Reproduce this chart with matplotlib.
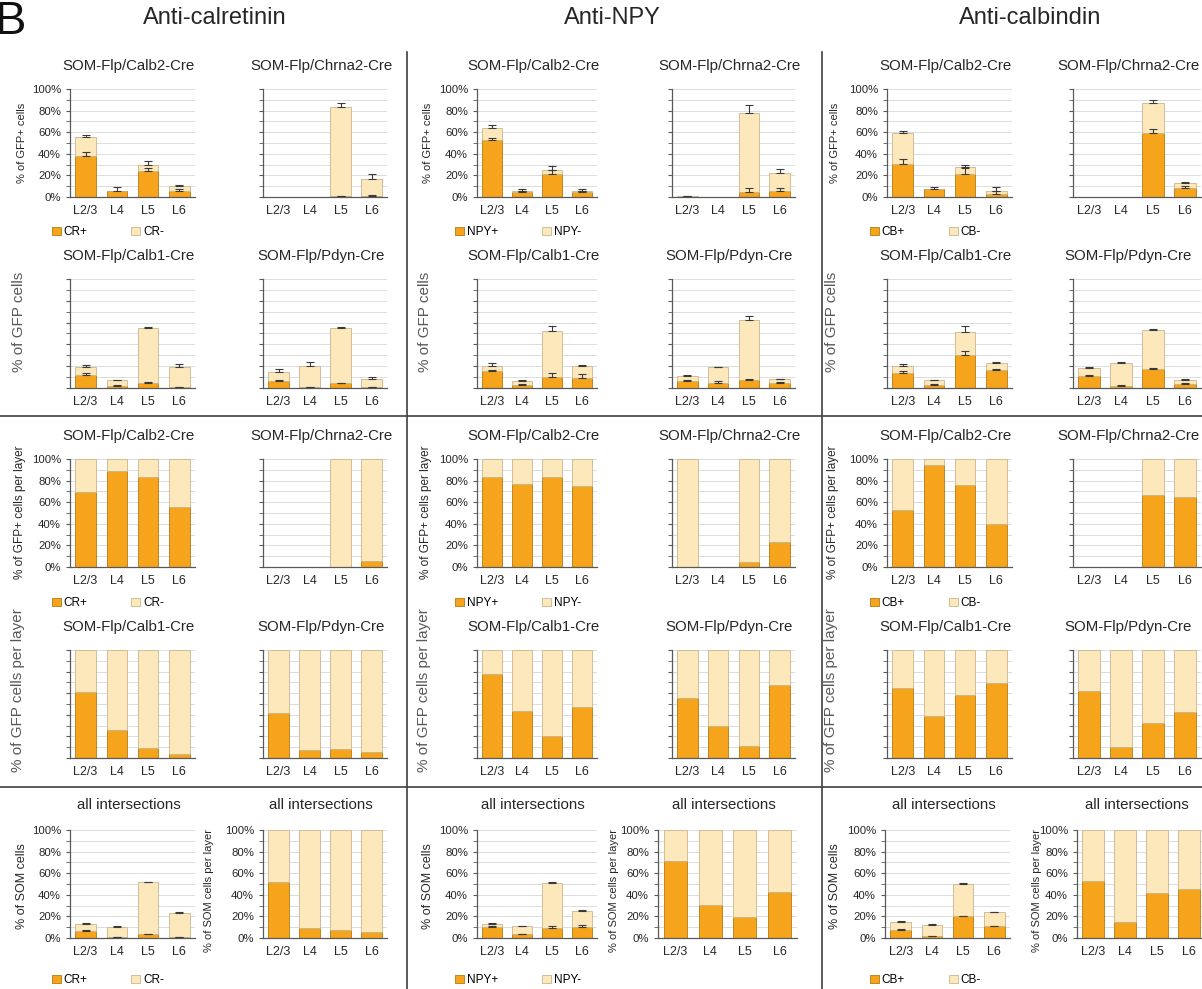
import matplotlib
matplotlib.use("Agg")
import matplotlib.pyplot as plt
from matplotlib.lines import Line2D
from matplotlib.patches import Patch
import numpy as np

plt.rcParams['font.family'] = ['Liberation Sans', 'DejaVu Sans']

layers = ["L2/3", "L4", "L5", "L6"]
antibodies = ["Anti-calretinin", "Anti-NPY", "Anti-calbindin"]
markers = ["CR", "NPY", "CB"]

# ---- Anti-calretinin ----
# % of GFP+ cells (stacked: positive / negative), upper error bars
cr_calb2_pos = [38, 5.5, 24, 6]
cr_calb2_neg = [17.5, 0.5, 6, 4.5]
cr_calb2_pos_err = [4, 3.5, 3, 1]
cr_calb2_tot_err = [2, 0, 3, 1]
cr_chrna2_pos = [0, 0, 0.5, 1]
cr_chrna2_neg = [0, 0, 82.5, 16]
cr_chrna2_pos_err = [0, 0, 0.3, 0.5]
cr_chrna2_tot_err = [0, 0, 4, 4]
cr_calb1_pos = [12, 2, 5, 0.5]
cr_calb1_neg = [7, 5, 50, 18.5]
cr_calb1_pos_err = [1.5, 0.3, 0.5, 0.3]
cr_calb1_tot_err = [2, 0.5, 1, 3]
cr_pdyn_pos = [6, 1, 4.5, 0.5]
cr_pdyn_neg = [9, 19, 50.5, 8]
cr_pdyn_pos_err = [1, 0.3, 0.5, 0.2]
cr_pdyn_tot_err = [2, 4, 1, 2]
# % per layer
cr_calb2_frac = [69, 89, 83.5, 56]
cr_chrna2_frac = [0, 0, 0, 6]
cr_chrna2_frac_neg = [0, 0, 100, 94]
cr_calb1_frac = [61, 26, 9, 4]
cr_pdyn_frac = [42, 7, 8, 6]
# all intersections
cr_all_pos = [6.2, 0.5, 3.4, 0.8]
cr_all_neg = [7, 9.7, 48, 22.7]
cr_all_pos_err = [1, 0.2, 0.3, 0.3]
cr_all_tot_err = [0.7, 0.5, 0.7, 0.6]
cr_all_frac = [52, 9, 7, 6]

# ---- Anti-NPY ----
npy_calb2_pos = [53, 5, 21, 5]
npy_calb2_neg = [11, 1, 4, 1]
npy_calb2_pos_err = [1.5, 1, 4, 1]
npy_calb2_tot_err = [2.5, 1, 3.5, 1]
npy_chrna2_pos = [0, 0, 5, 6]
npy_chrna2_neg = [0.7, 0, 73, 16]
npy_chrna2_pos_err = [0, 0, 3, 2]
npy_chrna2_tot_err = [0.5, 0, 7, 4]
npy_calb1_pos = [15.4, 3, 10, 9]
npy_calb1_neg = [4.6, 3.8, 42.6, 11]
npy_calb1_pos_err = [1, 0.5, 4, 4]
npy_calb1_tot_err = [2.5, 0.5, 4.5, 1.5]
npy_pdyn_pos = [6, 5, 7, 5]
npy_pdyn_neg = [5.4, 14, 55, 3]
npy_pdyn_pos_err = [1.5, 1, 1, 0.5]
npy_pdyn_tot_err = [0.5, 0.3, 4, 0.5]
npy_calb2_frac = [83.5, 76.5, 83.5, 75]
npy_chrna2_frac = [0, 0, 5, 23]
npy_chrna2_frac_neg = [100, 0, 95, 77]
npy_calb1_frac = [78, 43.5, 20, 47]
npy_pdyn_frac = [56, 30, 11, 68]
npy_all_pos = [10, 3.3, 9.4, 10.6]
npy_all_neg = [3, 7.7, 41.6, 14.4]
npy_all_pos_err = [1, 0.5, 1.5, 1.3]
npy_all_tot_err = [1, 0.5, 0.8, 0.5]
npy_all_frac = [71, 30.6, 19, 43]

# ---- Anti-calbindin ----
cb_calb2_pos = [31, 7, 21, 3]
cb_calb2_neg = [28, 0.5, 6.6, 3]
cb_calb2_pos_err = [4.3, 2.5, 5.5, 2.5]
cb_calb2_tot_err = [2, 0, 2, 2.8]
cb_chrna2_pos = [0, 0, 59, 8.6]
cb_chrna2_neg = [0, 0, 28, 4.4]
cb_chrna2_pos_err = [0, 0, 4, 1.5]
cb_chrna2_tot_err = [0, 0, 3, 1]
cb_calb1_pos = [14, 3, 30, 16.5]
cb_calb1_neg = [6, 4, 21, 6.5]
cb_calb1_pos_err = [1.5, 0.5, 4, 1]
cb_calb1_tot_err = [2, 0.5, 6, 1]
cb_pdyn_pos = [11, 2, 17.5, 4]
cb_pdyn_neg = [7, 21, 35.5, 3]
cb_pdyn_pos_err = [1, 0.3, 1, 0.5]
cb_pdyn_tot_err = [1, 0.5, 1, 1]
cb_calb2_frac = [53, 94, 75.5, 40]
cb_chrna2_frac = [0, 0, 67, 65]
cb_chrna2_frac_neg = [0, 0, 33, 35]
cb_calb1_frac = [65, 39, 58, 69]
cb_pdyn_frac = [62, 10, 32, 43]
cb_all_pos = [7.7, 1.5, 20, 10.8]
cb_all_neg = [7.3, 10.8, 30, 12.9]
cb_all_pos_err = [0.5, 0.3, 0.7, 0.7]
cb_all_tot_err = [0.7, 0.4, 0.6, 0.5]
cb_all_frac = [53, 14.5, 42, 45.5]

ORANGE = "#f7a41d"
LIGHT = "#fde8bb"
ORANGE_EDGE = "#b47a10"
LIGHT_EDGE = "#c8b68e"
AXC = "#595959"
TXT = "#262626"

W, H = 1202, 989
fig = plt.figure(figsize=(W / 100, H / 100), dpi=100)


def px_axes(x0, y0, x1, y1):
    return fig.add_axes([x0 / W, 1 - y1 / H, (x1 - x0) / W, (y1 - y0) / H])


def style(ax, show_y=True):
    ax.set_xlim(-0.5, 3.5)
    ax.set_ylim(0, 100)
    for s in ["top", "right"]:
        ax.spines[s].set_visible(False)
    for s in ["left", "bottom"]:
        ax.spines[s].set_color(AXC)
        ax.spines[s].set_linewidth(0.9)
    ax.set_yticks(np.arange(0, 101, 20))
    ax.set_yticks(np.arange(0, 101, 10), minor=True)
    ax.yaxis.grid(True, which="both", color="#dcdcdc", lw=0.7)
    ax.set_axisbelow(True)
    ax.set_yticklabels(["%d%%" % v for v in range(0, 101, 20)])
    ax.tick_params(axis="y", which="both", length=3, color=AXC, labelsize=8.2,
                   labelcolor=TXT, labelleft=show_y, pad=3.5)
    ax.set_xticks(range(4))
    ax.set_xticklabels(layers)
    ax.tick_params(axis="x", length=0, labelsize=9, labelcolor=TXT, pad=6)


def stacked(ax, pos, neg, pos_err=None, tot_err=None, show_y=True, width=0.66):
    x = np.arange(4)
    pos = np.array(pos, float)
    neg = np.array(neg, float)
    ax.bar(x, pos, width, color=ORANGE, edgecolor=ORANGE_EDGE, lw=0.6, zorder=2)
    ax.bar(x, neg, width, bottom=pos, color=LIGHT, edgecolor=LIGHT_EDGE, lw=0.6, zorder=2)
    if pos_err is not None:
        for top, err in [(pos, np.array(pos_err)), (pos + neg, np.array(tot_err))]:
            m = err > 0
            ax.errorbar(x[m], top[m], yerr=[np.zeros(m.sum()), err[m]], fmt="none",
                        ecolor="#3a3a3a", elinewidth=0.8, capsize=3, capthick=0.8, zorder=3)
    style(ax, show_y)


def title(txt, xc, yc):
    fig.text(xc / W, 1 - yc / H, txt, ha="center", va="center", fontsize=10.8, color=TXT)


def vlabel(txt, xc, yc, size=8.5, color=TXT):
    fig.text(xc / W, 1 - yc / H, txt, ha="center", va="center", rotation=90,
             fontsize=size, color=color)


def legend(mk, x, y):
    h = [Patch(facecolor=ORANGE, edgecolor=ORANGE_EDGE, lw=0.6),
         Patch(facecolor=LIGHT, edgecolor=LIGHT_EDGE, lw=0.6)]
    fig.legend(h, [mk + "+", mk + "-"], loc="center left",
               bbox_to_anchor=(x / W, 1 - y / H), ncol=2, frameon=False,
               fontsize=8.5, handlelength=0.75, handleheight=0.75,
               handletextpad=0.25, columnspacing=3.7, borderpad=0, borderaxespad=0)


# pixel layout
cols = [(70, 195, 263, 387), (477, 597, 672, 795), (887, 1012, 1073, 1201)]
rowE_prop = [(263, 387), (658, 797), (1077, 1205)]
rowE_abs = [(70, 195), (477, 597), (885, 1010)]
rows = {"A": (89, 197), "B": (279, 388), "C": (459, 567), "D": (650, 758), "E": (830, 938)}
header_x = [215, 612, 1030]
legend_x = [52, 455, 870]
ylab_x = [22, 428, 835]
propE_lab_x = [209, 614, 1037]

abs_data = [
    [(cr_calb2_pos, cr_calb2_neg, cr_calb2_pos_err, cr_calb2_tot_err),
     (cr_chrna2_pos, cr_chrna2_neg, cr_chrna2_pos_err, cr_chrna2_tot_err),
     (cr_calb1_pos, cr_calb1_neg, cr_calb1_pos_err, cr_calb1_tot_err),
     (cr_pdyn_pos, cr_pdyn_neg, cr_pdyn_pos_err, cr_pdyn_tot_err)],
    [(npy_calb2_pos, npy_calb2_neg, npy_calb2_pos_err, npy_calb2_tot_err),
     (npy_chrna2_pos, npy_chrna2_neg, npy_chrna2_pos_err, npy_chrna2_tot_err),
     (npy_calb1_pos, npy_calb1_neg, npy_calb1_pos_err, npy_calb1_tot_err),
     (npy_pdyn_pos, npy_pdyn_neg, npy_pdyn_pos_err, npy_pdyn_tot_err)],
    [(cb_calb2_pos, cb_calb2_neg, cb_calb2_pos_err, cb_calb2_tot_err),
     (cb_chrna2_pos, cb_chrna2_neg, cb_chrna2_pos_err, cb_chrna2_tot_err),
     (cb_calb1_pos, cb_calb1_neg, cb_calb1_pos_err, cb_calb1_tot_err),
     (cb_pdyn_pos, cb_pdyn_neg, cb_pdyn_pos_err, cb_pdyn_tot_err)],
]
frac_data = [
    [(cr_calb2_frac, None), (cr_chrna2_frac, cr_chrna2_frac_neg), (cr_calb1_frac, None), (cr_pdyn_frac, None)],
    [(npy_calb2_frac, None), (npy_chrna2_frac, npy_chrna2_frac_neg), (npy_calb1_frac, None), (npy_pdyn_frac, None)],
    [(cb_calb2_frac, None), (cb_chrna2_frac, cb_chrna2_frac_neg), (cb_calb1_frac, None), (cb_pdyn_frac, None)],
]
all_data = [
    (cr_all_pos, cr_all_neg, cr_all_pos_err, cr_all_tot_err, cr_all_frac),
    (npy_all_pos, npy_all_neg, npy_all_pos_err, npy_all_tot_err, npy_all_frac),
    (cb_all_pos, cb_all_neg, cb_all_pos_err, cb_all_tot_err, cb_all_frac),
]
lines = ["SOM-Flp/Calb2-Cre", "SOM-Flp/Chrna2-Cre", "SOM-Flp/Calb1-Cre", "SOM-Flp/Pdyn-Cre"]

for c in range(3):
    xa0, xa1, xb0, xb1 = cols[c]
    mk = markers[c]
    fig.text(header_x[c] / W, 1 - 18 / H, antibodies[c], ha="center", va="center",
             fontsize=17, color=TXT)
    # absolute numbers
    for i, (rk, (x0, x1)) in enumerate([("A", (xa0, xa1)), ("A", (xb0, xb1)),
                                        ("B", (xa0, xa1)), ("B", (xb0, xb1))]):
        y0, y1 = rows[rk]
        ax = px_axes(x0, y0, x1, y1)
        pos, neg, pe, te = abs_data[c][i]
        stacked(ax, pos, neg, pe, te, show_y=(i == 0))
        title(lines[i], min((x0 + x1) / 2 - 4, 1128), y0 - 23)
    # proportions per layer
    for i, (rk, (x0, x1)) in enumerate([("C", (xa0, xa1)), ("C", (xb0, xb1)),
                                        ("D", (xa0, xa1)), ("D", (xb0, xb1))]):
        y0, y1 = rows[rk]
        ax = px_axes(x0, y0, x1, y1)
        pos, neg = frac_data[c][i]
        if neg is None:
            neg = [100 - v for v in pos]
        stacked(ax, pos, neg, show_y=(i == 0))
        title(lines[i], min((x0 + x1) / 2 - 4, 1128), y0 - 23)
    # all intersections
    y0, y1 = rows["E"]
    pos, neg, pe, te, frac = all_data[c]
    x0, x1 = rowE_abs[c]
    ax = px_axes(x0, y0, x1, y1)
    stacked(ax, pos, neg, pe, te)
    title("all intersections", (x0 + x1) / 2 - 4, y0 - 25)
    x0, x1 = rowE_prop[c]
    ax = px_axes(x0, y0, x1, y1)
    stacked(ax, frac, [100 - v for v in frac])
    title("all intersections", (x0 + x1) / 2 - 4, y0 - 25)

    legend(mk, legend_x[c], 232)
    legend(mk, legend_x[c], 603)
    legend(mk, legend_x[c], 980)

    lx = ylab_x[c]
    vlabel("% of GFP+ cells", lx, 143, 8)
    vlabel("% of GFP cells", lx - 3, 322, 11, AXC)
    vlabel("% of GFP+ cells per layer", lx - 2, 512, 8.5)
    vlabel("% of GFP cells per layer", lx - 4, 690, 11, AXC)
    vlabel("% of SOM cells", lx, 886, 9)
    vlabel("% of SOM cells per layer", propE_lab_x[c], 890, 8)

# panel letter
fig.text(-6 / W, 1 - 22 / H, "B", ha="left", va="center", fontsize=34, color="#111111")

# separators
for y in [416, 787]:
    fig.add_artist(Line2D([0, 1], [1 - y / H, 1 - y / H], color="#404040", lw=1.2,
                          transform=fig.transFigure))
for x in [407, 822]:
    fig.add_artist(Line2D([x / W, x / W], [1 - 52 / H, 0], color="#404040", lw=1.2,
                          transform=fig.transFigure))

fig.savefig("out.png", dpi=100, facecolor="white")
